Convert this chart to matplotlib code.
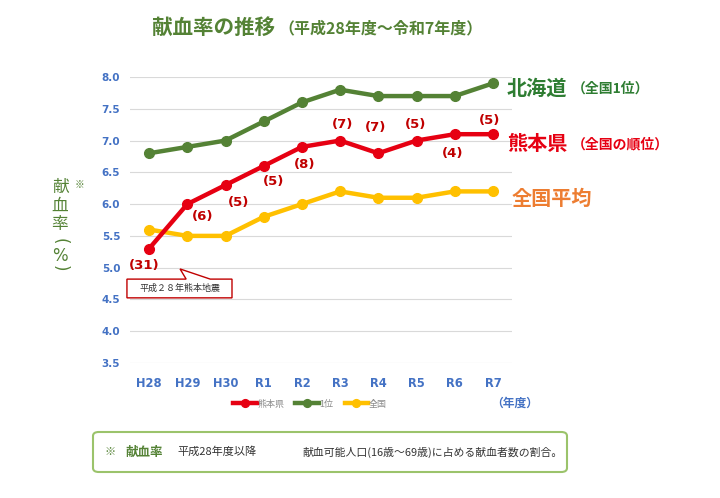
import matplotlib
matplotlib.use("Agg")
import matplotlib.pyplot as plt
from matplotlib.patches import Polygon, FancyBboxPatch

plt.rcParams["font.family"] = ["Noto Sans CJK JP", "DejaVu Sans"]

years = ["H28", "H29", "H30", "R1", "R2", "R3", "R4", "R5", "R6", "R7"]
kumamoto = [5.3, 6.0, 6.3, 6.6, 6.9, 7.0, 6.8, 7.0, 7.1, 7.1]
first = [6.8, 6.9, 7.0, 7.3, 7.6, 7.8, 7.7, 7.7, 7.7, 7.9]
national = [5.6, 5.5, 5.5, 5.8, 6.0, 6.2, 6.1, 6.1, 6.2, 6.2]
ranks = [31, 6, 5, 5, 8, 7, 7, 5, 4, 5]
# label offsets (x, y) from each Kumamoto point, in data units
rank_offsets = [(-0.13, -0.26), (0.39, -0.2), (0.34, -0.28), (0.27, -0.25), (0.06, -0.28),
                (0.07, 0.26), (-0.08, 0.41), (-0.03, 0.26), (-0.06, -0.3), (-0.08, 0.22)]

GREEN = "#548235"
RED = "#E60012"
YELLOW = "#FFC000"
DARKRED = "#C00000"
BLUE = "#4472C4"
ORANGE = "#ED7D31"

fig = plt.figure(figsize=(7.2, 4.98), dpi=100)
ax = fig.add_axes([130 / 720, 1 - 363 / 498, 382 / 720, 286 / 498])

x = list(range(len(years)))
ax.plot(x, kumamoto, color=RED, lw=3.2, marker="o", ms=7, label="熊本県", zorder=4)
ax.plot(x, first, color=GREEN, lw=3.2, marker="o", ms=7, label="1位", zorder=3)
ax.plot(x, national, color=YELLOW, lw=3.2, marker="o", ms=7, label="全国", zorder=3)

for i, (r, (dx, dy)) in enumerate(zip(ranks, rank_offsets)):
    ax.text(i + dx, kumamoto[i] + dy, f"({r})", color=DARKRED, fontsize=9.5,
            fontweight="bold", ha="center", va="center", family="DejaVu Sans")

ax.set_xlim(-0.5, 9.5)
ax.set_ylim(3.5, 8.0)
ax.set_yticks([3.5 + 0.5 * k for k in range(10)])
ax.set_yticklabels([f"{3.5 + 0.5 * k:.1f}" for k in range(10)])
ax.set_xticks(x)
ax.set_xticklabels(years)
ax.tick_params(axis="y", length=0, pad=7, labelsize=7.5, labelcolor=BLUE)
ax.tick_params(axis="x", length=0, pad=10, labelsize=8.3, labelcolor=BLUE)
for lab in ax.get_xticklabels() + ax.get_yticklabels():
    lab.set_fontweight("bold")
    lab.set_family("DejaVu Sans")
ax.yaxis.grid(True, color="#d9d9d9", lw=0.8)
ax.set_axisbelow(True)
for s in ax.spines.values():
    s.set_visible(False)

# earthquake callout
callout = Polygon([(-0.58, 4.82), (0.97, 4.82), (0.81, 4.98), (1.60, 4.82), (2.17, 4.82),
                   (2.17, 4.525), (-0.58, 4.525)], closed=True, facecolor="white",
                  edgecolor=DARKRED, lw=1.0, clip_on=False, zorder=5)
ax.add_patch(callout)
ax.text(0.8, 4.67, "平成２８年熊本地震", fontsize=6.5, color="#333333", ha="center",
        va="center", zorder=6)

# right-hand series labels
fig.text(507 / 720, 1 - 88 / 498, "北海道", color="#2E7D32", fontsize=14.5, fontweight="bold",
         ha="left", va="center")
fig.text(572 / 720, 1 - 89 / 498, "（全国1位）", color="#2E7D32", fontsize=10, fontweight="bold",
         ha="left", va="center")
fig.text(507 / 720, 1 - 143 / 498, "熊本県", color=RED, fontsize=14.5, fontweight="bold",
         ha="left", va="center")
fig.text(572 / 720, 1 - 144 / 498, "（全国の順位）", color=RED, fontsize=10, fontweight="bold",
         ha="left", va="center")
fig.text(512 / 720, 1 - 198 / 498, "全国平均", color=ORANGE, fontsize=14.5, fontweight="bold",
         ha="left", va="center")

# title
fig.text(152 / 720, 1 - 27 / 498, "献血率の推移", color=GREEN, fontsize=14.8, fontweight="bold",
         ha="left", va="center")
fig.text(278 / 720, 1 - 28 / 498, "（平成28年度～令和7年度）", color=GREEN, fontsize=11.5,
         fontweight="bold", ha="left", va="center")

# y label (stacked vertically)
ylab_chars = [("献", 187, 0), ("血", 206, 0), ("率", 224, 0), ("(", 241, -90), ("%", 256, 0), (")", 268, -90)]
for ch, py, rot in ylab_chars:
    fig.text(60 / 720, 1 - py / 498, ch, color=GREEN, fontsize=12, ha="center", va="center",
             rotation=rot, family="DejaVu Sans" if ch in "()%" else None)
fig.text(79 / 720, 1 - 185 / 498, "※", color=GREEN, fontsize=7, ha="center", va="center")

fig.text(515 / 720, 1 - 403 / 498, "（年度）", color=BLUE, fontsize=8.5, fontweight="bold",
         ha="center", va="center")

leg = fig.legend(loc="center", bbox_to_anchor=(310 / 720, 1 - 404 / 498), ncol=3, frameon=False,
                 fontsize=6.5, handlelength=2.6, handletextpad=0.1, columnspacing=1.2,
                 markerscale=0.8)
for t in leg.get_texts():
    t.set_color("#8c8c8c")

# footnote box
box = FancyBboxPatch((93 / 720, 1 - 472 / 498), 474 / 720, 40 / 498,
                     boxstyle="round,pad=0,rounding_size=0.008", transform=fig.transFigure,
                     facecolor="white", edgecolor="#9BC36B", lw=1.5)
fig.patches.append(box)
fy = 1 - 452 / 498
fig.text(110 / 720, fy, "※", color=GREEN, fontsize=8, ha="center", va="center")
fig.text(125 / 720, fy, "献血率", color=GREEN, fontsize=9, fontweight="bold", ha="left", va="center")
fig.text(177 / 720, fy, "平成28年度以降", color="#333333", fontsize=8, ha="left", va="center")
fig.text(302 / 720, fy, "献血可能人口(16歳～69歳)に占める献血者数の割合。", color="#333333",
         fontsize=7.8, ha="left", va="center")

fig.savefig("out.png", dpi=100, facecolor="white")
